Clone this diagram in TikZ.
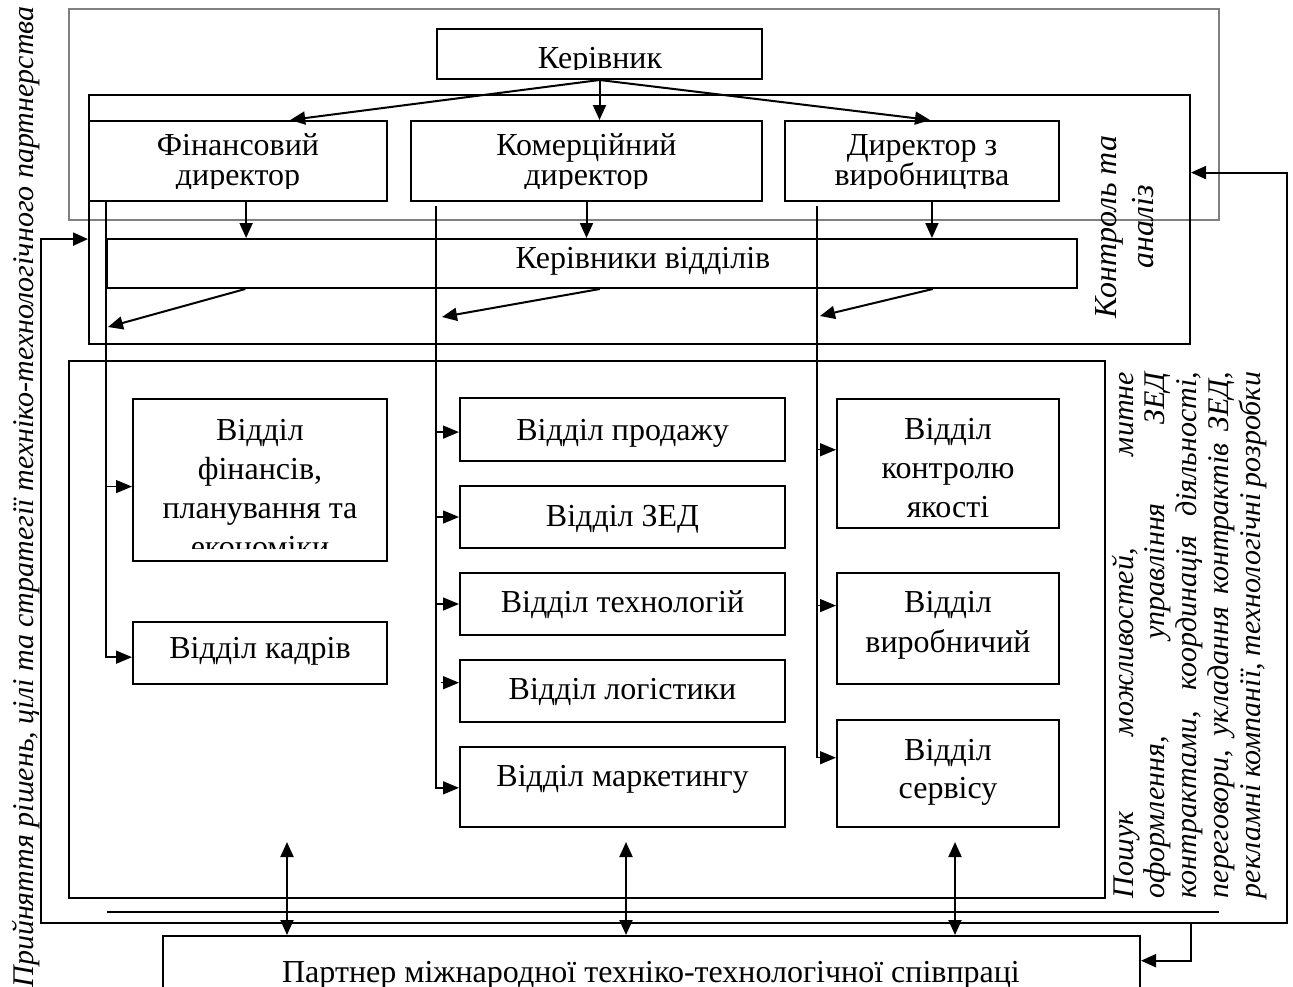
\documentclass[tikz,border=0pt]{standalone}
\usepackage{fontspec}
\setmainfont{Liberation Serif}
\usetikzlibrary{arrows.meta,fit,calc}
\newcommand{\ML}[3]{{\fontsize{#1}{#2}\selectfont\lineskiplimit=-100pt\vtop{\halign{\hfil##\hfil\cr #3\crcr}}}}
\begin{document}
\begin{tikzpicture}[x=0.5pt,y=-0.5pt,
  box/.style={draw, line width=1pt, inner sep=0pt, rectangle},
  txt/.style={inner sep=0pt, anchor=base, font=\fontsize{16}{20}\selectfont},
  arr/.style={line width=1pt, -{Triangle[length=7.5pt,width=6.5pt]}},
  darr/.style={line width=1pt, {Triangle[length=7.5pt,width=6.5pt]}-{Triangle[length=7.5pt,width=6.5pt]}},
  bus/.style={line width=0.7pt},
  sarr/.style={line width=0.7pt, -{Triangle[length=8pt,width=6.5pt]}}]
\useasboundingbox (0,0) rectangle (1293,986);
\fill[white] (0,0) rectangle (1293,986);

% frames and boxes
\node[draw=gray, line width=1pt, inner sep=0pt, fit={(69,9)(1219,220)}] (gframe) {};
\node[box, fit={(89,95)(1190,344)}] (ctl) {};
\node[box, fit={(437,29)(762,79)}] (ker) {};
\node[box, fit={(89,121)(387,201)}] (fin) {};
\node[box, fit={(411,121)(762,201)}] (com) {};
\node[box, fit={(785,121)(1059,201)}] (dir) {};
\node[box, fit={(107,239)(1077,288)}] (mgr) {};
\node[box, fit={(69,361)(1105,898)}] (low) {};
\node[box, fit={(133,399)(387,561)}] (dfin) {};
\node[box, fit={(133,622)(387,684)}] (dkad) {};
\node[box, fit={(460,398)(785,461)}] (dsal) {};
\node[box, fit={(460,486)(785,548)}] (dzed) {};
\node[box, fit={(460,573)(785,635)}] (dtec) {};
\node[box, fit={(460,660)(785,722)}] (dlog) {};
\node[box, fit={(460,747)(785,827)}] (dmar) {};
\node[box, fit={(837,399)(1059,528)}] (dqc) {};
\node[box, fit={(837,573)(1059,684)}] (dpro) {};
\node[box, fit={(837,720)(1059,827)}] (dser) {};
\node[box, fit={(163,936)(1140,1010)}] (part) {};

% texts
\begin{scope}
\clip (437,29) rectangle (762,69);
\node[txt] (tker) at (600,68) {Керівник};
\end{scope}
\begin{scope}
\clip (89,121) rectangle (1059,188);
\node[txt] (tfin) at (238,155) {\ML{16}{15}{Фінансовий\cr директор}};
\node[txt] (tcom) at (586.5,155) {\ML{16}{15}{Комерційний\cr директор}};
\node[txt] (tdir) at (922,155) {\ML{16}{15}{Директор з\cr виробництва}};
\end{scope}
\node[txt] (tmgr) at (643,268) {Керівники відділів};
\begin{scope}
\clip (133,399) rectangle (387,548);
\node[txt] (tdfin) at (260,440) {\ML{16}{19.5}{Відділ\cr фінансів,\cr планування та\cr економіки}};
\end{scope}
\node[txt] (tdkad) at (260,658) {Відділ кадрів};
\node[txt] (tdsal) at (622.5,440) {Відділ продажу};
\node[txt] (tdzed) at (622.5,526) {Відділ ЗЕД};
\node[txt] (tdtec) at (622.5,612) {Відділ технологій};
\node[txt] (tdlog) at (622.5,699) {Відділ логістики};
\node[txt] (tdmar) at (622.5,786) {Відділ маркетингу};
\node[txt] (tdqc) at (948,439) {\ML{16}{19.5}{Відділ\cr контролю\cr якості}};
\node[txt] (tdpro) at (948,612) {\ML{16}{20}{Відділ\cr виробничий}};
\node[txt] (tdser) at (948,760) {\ML{16}{19}{Відділ\cr сервісу}};
\node[txt] (tpart) at (651,982) {Партнер міжнародної техніко-технологічної співпраці};

\node[txt, rotate=90, font=\itshape] (tctl) at (1116,227) {\ML{16}{18.5}{Контроль та\cr аналіз}};
\node[txt, rotate=90, font=\itshape\fontsize{15}{18}\selectfont] (tleft) at (33,497) {Прийняття рішень, цілі та стратегії техніко-технологічного партнерства};
\node[txt, rotate=90, font=\itshape] (tsrch) at (1133,635) {\ML{15}{15.9}{%
\makebox[263pt][s]{Пошук можливостей, митне}\cr
\makebox[263pt][s]{оформлення, управління ЗЕД}\cr
\makebox[263pt][s]{контрактами, координація діяльності,}\cr
\makebox[263pt][s]{переговори, укладання контрактів ЗЕД,}\cr
\makebox[263pt][s]{рекламні компанії, технологічні розробки}}};

% connectors from the head
\draw[arr] (ker.south) -- ($(fin.north west)!0.674!(fin.north east)$);
\draw[arr] (ker.south) -- (ker.south |- com.north);
\draw[arr] (ker.south) -- ($(dir.north west)!0.529!(dir.north east)$);

\coordinate (f1) at ($(fin.south west)!0.527!(fin.south east)$);
\draw[arr] (f1) -- (f1 |- mgr.north);
\draw[arr] (com.south) -- (com.south |- mgr.north);
\coordinate (d1) at ($(dir.south west)!0.536!(dir.south east)$);
\draw[arr] (d1) -- (d1 |- mgr.north);

% buses
\coordinate (L0) at ($(fin.south west)!0.06!(fin.south east)$);
\coordinate (M0) at ($(com.south west)!0.074!(com.south east)+(0,4)$);
\coordinate (R0) at ($(dir.south west)!0.12!(dir.south east)+(0,4)$);

\coordinate (inDfin) at ($(dfin.north west)!0.54!(dfin.south west)$);
\coordinate (inDkad) at ($(dkad.north west)!0.565!(dkad.south west)$);
\draw[sarr] (L0) -- (L0 |- inDkad) -- (inDkad);
\draw[sarr] (L0 |- inDfin) -- (inDfin);

\coordinate (inSal) at ($(dsal.north west)!0.54!(dsal.south west)$);
\coordinate (inLog) at ($(dlog.north west)!0.37!(dlog.south west)$);
\coordinate (inMar) at ($(dmar.north west)!0.51!(dmar.south west)$);
\draw[sarr] (M0) -- (M0 |- inMar) -- (inMar);
\draw[sarr] (M0 |- inSal) -- (inSal);
\draw[sarr] (M0 |- dzed.west) -- (dzed.west);
\draw[sarr] (M0 |- dtec.west) -- (dtec.west);
\draw[sarr] ($(M0 |- inLog)+(5,0)$) -- (inLog);

\coordinate (inQc) at ($(dqc.north west)!0.395!(dqc.south west)$);
\coordinate (inPro) at ($(dpro.north west)!0.297!(dpro.south west)$);
\coordinate (inSer) at ($(dser.north west)!0.355!(dser.south west)$);
\draw[sarr] (R0) -- (R0 |- inSer) -- (inSer);
\draw[sarr] (R0 |- inQc) -- (inQc);
\draw[sarr] (R0 |- inPro) -- (inPro);

% diagonal arrows from department heads
\coordinate (gL) at (108,327);
\coordinate (gM) at (442,317);
\coordinate (gR) at (820,316);
\draw[arr] ($(mgr.south west)!0.1433!(mgr.south east)$) -- (gL);
\draw[arr] ($(mgr.south west)!0.508!(mgr.south east)$) -- (gM);
\draw[arr] ($(mgr.south west)!0.8505!(mgr.south east)$) -- (gR);

% feedback loop
\coordinate (fbL) at (41,923);
\coordinate (fbR) at (1287,923);
\coordinate (fbP) at (1191,923);
\coordinate (ctlL) at ($(ctl.north west)!0.578!(ctl.south west)$);
\coordinate (ctlR) at ($(ctl.north east)!0.313!(ctl.south east)$);
\draw[darr] (ctlL) -- (ctlL -| fbL) -- (fbL) -- (fbR) -- (fbR |- ctlR) -- (ctlR);
\coordinate (partR) at ($(part.north east)!0.338!(part.south east)$);
\draw[arr] (fbP) -- (fbP |- partR) -- (partR);

% line under the lower frame
\coordinate (dl1) at (107,912);
\coordinate (dl2) at (1219,912);
\draw[line width=0.8pt] (dl1) -- (dl2);

% links with the partner
\coordinate (u1) at (287,842);
\coordinate (u2) at (626,842);
\coordinate (u3) at (955,842);
\draw[darr] (u1) -- (u1 |- part.north);
\draw[darr] (u2) -- (u2 |- part.north);
\draw[darr] (u3) -- (u3 |- part.north);
\end{tikzpicture}
\end{document}
